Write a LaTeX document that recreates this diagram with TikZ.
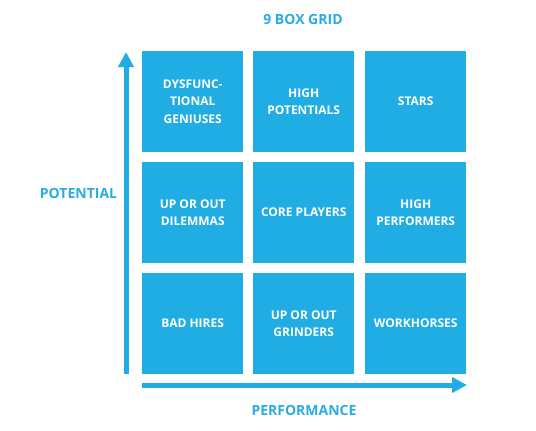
\documentclass[tikz,border=0pt]{standalone}
\usepackage{fontspec}
\setmainfont{Open Sans}
\usetikzlibrary{arrows.meta}
\definecolor{boxblue}{HTML}{1FADE3}
\definecolor{labelblue}{HTML}{2AABE2}
\begin{document}
\begin{tikzpicture}[x=1pt,y=-1pt,
  cell/.style={fill=boxblue,draw=none,minimum width=101pt,minimum height=101pt,inner sep=0pt,
    text=white,font=\fontsize{12}{17.5}\selectfont\bfseries,align=center,anchor=north west},
  axislabel/.style={text=labelblue,font=\fontsize{14}{17}\selectfont\bfseries,inner sep=0pt},
  axis/.style={draw=boxblue,line width=5pt,-{Triangle[length=15pt,width=15pt]}}]
\useasboundingbox (0,0) rectangle (536,431);
\node[axislabel] (title) at (303,19) {9 BOX GRID};
\node[cell] (c11) at (142,51) {DYSFUNC-\\TIONAL\\GENIUSES};
\node[cell] (c12) at (253,51) {HIGH\\POTENTIALS};
\node[cell] (c13) at (365,51) {STARS};
\node[cell] (c21) at (142,162) {UP OR OUT\\DILEMMAS};
\node[cell] (c22) at (253,162) {CORE PLAYERS};
\node[cell] (c23) at (365,162) {HIGH\\PERFORMERS};
\node[cell] (c31) at (142,273) {BAD HIRES};
\node[cell] (c32) at (253,273) {UP OR OUT\\GRINDERS};
\node[cell] (c33) at (365,273) {WORKHORSES};
\node[axislabel] (pot) at (78.5,193) {POTENTIAL};
\node[axislabel] (perf) at (304,410) {PERFORMANCE};
\coordinate (vbot) at (126,374);
\coordinate (vtop) at (126,52);
\coordinate (hleft) at (142,385);
\coordinate (hright) at (467,385);
\draw[axis] (vbot) -- (vtop);
\draw[axis] (hleft) -- (hright);
\end{tikzpicture}
\end{document}
